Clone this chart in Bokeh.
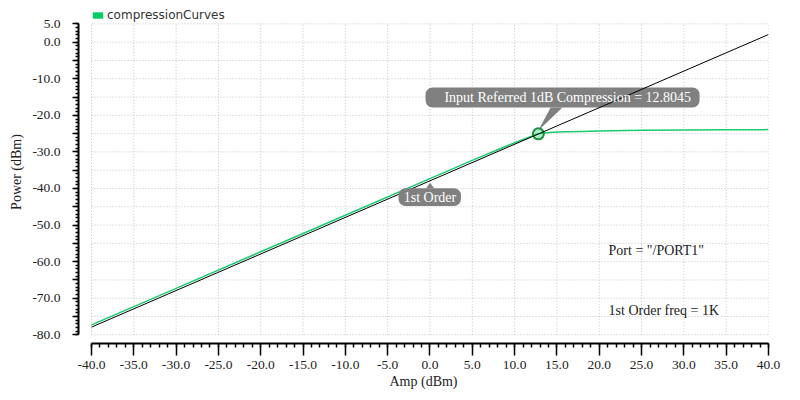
from bokeh.plotting import figure
from bokeh.models import FixedTicker, PrintfTickFormatter, Label, Legend, LegendItem
from bokeh.embed import file_html
from bokeh.resources import INLINE

# ---- data ----
amp_in = [-40, -30, -20, -10, 0, 5, 8, 10, 11, 12, 12.8045, 13.5, 14.5, 16, 18, 20, 25, 30, 35, 40]
pout_curve = [-77.3, -67.3, -57.3, -47.3, -37.3, -32.3, -29.4, -27.5, -26.6, -25.7, -25.05,
              -24.8, -24.65, -24.5, -24.4, -24.3, -24.1, -24.0, -23.95, -23.9]
first_order_x = [-40.0, 40.0]
first_order_y = [-77.9, 2.1]
comp_x = [12.8045]
comp_y = [-25.05]
order_x = 0.0

x_ticks = list(range(-40, 41, 5))
x_minor = list(range(-40, 41))
y_ticks = list(range(-80, 6, 5))
y_minor = list(range(-80, 6))
y_labeled = [5, 0, -10, -20, -30, -40, -50, -60, -70, -80]

GREEN = "#19cc6e"
SERIF = "Liberation Serif"
BOXC = "#808080"

FRAME_BOTTOM_BORDER = 57
p = figure(width=800, height=400, x_range=(-41.536, 40), y_range=(-82.38, 11.4),
           output_backend="svg", toolbar_location=None,
           min_border_left=78, min_border_right=32, min_border_top=0,
           min_border_bottom=FRAME_BOTTOM_BORDER)
p.xgrid.visible = False
p.ygrid.visible = False
p.outline_line_color = None
p.background_fill_color = "white"
p.border_fill_color = "white"

# grid (dotted, bounded to data extent)
ylo, yhi = min(y_ticks), max(y_ticks)
xlo, xhi = min(x_ticks), max(x_ticks)
p.segment(x0=x_ticks, y0=[ylo] * len(x_ticks), x1=x_ticks, y1=[yhi] * len(x_ticks),
          line_color="#c4c4c4", line_dash="1 2", line_width=1)
p.segment(x0=[xlo] * len(y_ticks), y0=y_ticks, x1=[xhi] * len(y_ticks), y1=y_ticks,
          line_color="#c4c4c4", line_dash="1 2", line_width=1)

cx, cy = comp_x[0], comp_y[0]
# compression callout box (below curves)
b1_left, b1_right, b1_top, b1_bottom = cx - 13.33, cx + 19.05, cy + 12.65, cy + 7.2
p.quad(left=[b1_left], right=[b1_right], top=[b1_top], bottom=[b1_bottom],
       fill_color=BOXC, line_color=None, border_radius=7)
p.patch(x=[cx, cx + 1.45, cx + 2.85], y=[cy + 0.9, b1_bottom, b1_bottom],
        fill_color=BOXC, line_color=None)

# curves
p.line(amp_in, pout_curve, line_color=GREEN, line_width=1.5)
p.scatter(comp_x, comp_y, size=11, fill_color=GREEN, fill_alpha=0.35,
          line_color="#1a8f3c", line_width=2)
p.line(first_order_x, first_order_y, line_color="black", line_width=1)

# 1st order callout
slope = (first_order_y[1] - first_order_y[0]) / (first_order_x[1] - first_order_x[0])
oy = first_order_y[0] + slope * (order_x - first_order_x[0])
b2_top, b2_bottom = oy - 2.0, oy - 6.9
p.quad(left=[order_x - 3.72], right=[order_x + 3.66], top=[b2_top], bottom=[b2_bottom],
       fill_color=BOXC, line_color=None, border_radius=7)
p.patch(x=[order_x - 0.45, order_x, order_x + 0.5], y=[b2_top, oy - 0.5, b2_top],
        fill_color=BOXC, line_color=None)

p.add_layout(Label(x=cx - 11.1, y=cy + 9.95, text="Input Referred 1dB Compression = 12.8045",
                   text_font=SERIF, text_font_size="14px", text_color="white",
                   text_baseline="middle", text_align="left"))
p.add_layout(Label(x=order_x, y=oy - 4.45, text="1st Order",
                   text_font=SERIF, text_font_size="14px", text_color="white",
                   text_baseline="middle", text_align="center"))
p.add_layout(Label(x=21.1, y=-56.95, text='Port = "/PORT1"',
                   text_font=SERIF, text_font_size="14px", text_color="#1a1a1a",
                   text_baseline="middle", text_align="left"))
p.add_layout(Label(x=21.1, y=-73.4, text="1st Order freq = 1K",
                   text_font=SERIF, text_font_size="14px", text_color="#1a1a1a",
                   text_baseline="middle", text_align="left"))

# legend swatch: a zero-area quad (invisible on the plot) whose legend glyph is a filled block
frame_h = 400 - FRAME_BOTTOM_BORDER
blk = p.quad(left=comp_x, right=comp_x, top=comp_y, bottom=comp_y,
             fill_color="#00cc66", line_color=None, fill_alpha=1.0)
legend = Legend(items=[LegendItem(label="compressionCurves", renderers=[blk])],
                location=(13, frame_h - 22), padding=0, margin=0, border_line_color=None,
                background_fill_alpha=0, glyph_width=13, glyph_height=8, label_standoff=3,
                label_text_font="DejaVu Sans", label_text_font_size="12px",
                label_text_color="#333333", label_height=14)
p.add_layout(legend)

# axes
xa = p.xaxis[0]
xa.bounds = (xlo, xhi)
xa.ticker = FixedTicker(ticks=x_ticks, minor_ticks=x_minor)
xa.formatter = PrintfTickFormatter(format="%.1f")
xa.axis_label = "Amp (dBm)"
xa.major_tick_out = 12
xa.major_tick_in = 0
xa.minor_tick_out = 4
xa.minor_tick_in = 0
xa.major_label_standoff = 5
xa.axis_label_standoff = 2

ya = p.yaxis[0]
ya.bounds = (ylo, yhi)
ya.ticker = FixedTicker(ticks=y_ticks, minor_ticks=y_minor)
ya.formatter = PrintfTickFormatter(format="%.1f")
ya.major_label_overrides = {t: "" for t in y_ticks if t not in y_labeled}
ya.axis_label = "Power (dBm)"
ya.major_tick_out = 6
ya.major_tick_in = 0
ya.minor_tick_out = 3
ya.minor_tick_in = 0
ya.major_label_standoff = 12
ya.axis_label_standoff = 5

for ax in (xa, ya):
    ax.axis_line_color = "black"
    ax.axis_line_width = 2
    ax.major_tick_line_color = "black"
    ax.major_tick_line_width = 1.5
    ax.minor_tick_line_color = "black"
    ax.minor_tick_line_width = 1.5
    ax.major_label_text_font = SERIF
    ax.major_label_text_font_size = "13.5px"
    ax.major_label_text_color = "#222222"
    ax.axis_label_text_font = SERIF
    ax.axis_label_text_font_size = "14px"
    ax.axis_label_text_font_style = "normal"
    ax.axis_label_text_color = "#222222"

open("out.html", "w").write(file_html(p, INLINE))
